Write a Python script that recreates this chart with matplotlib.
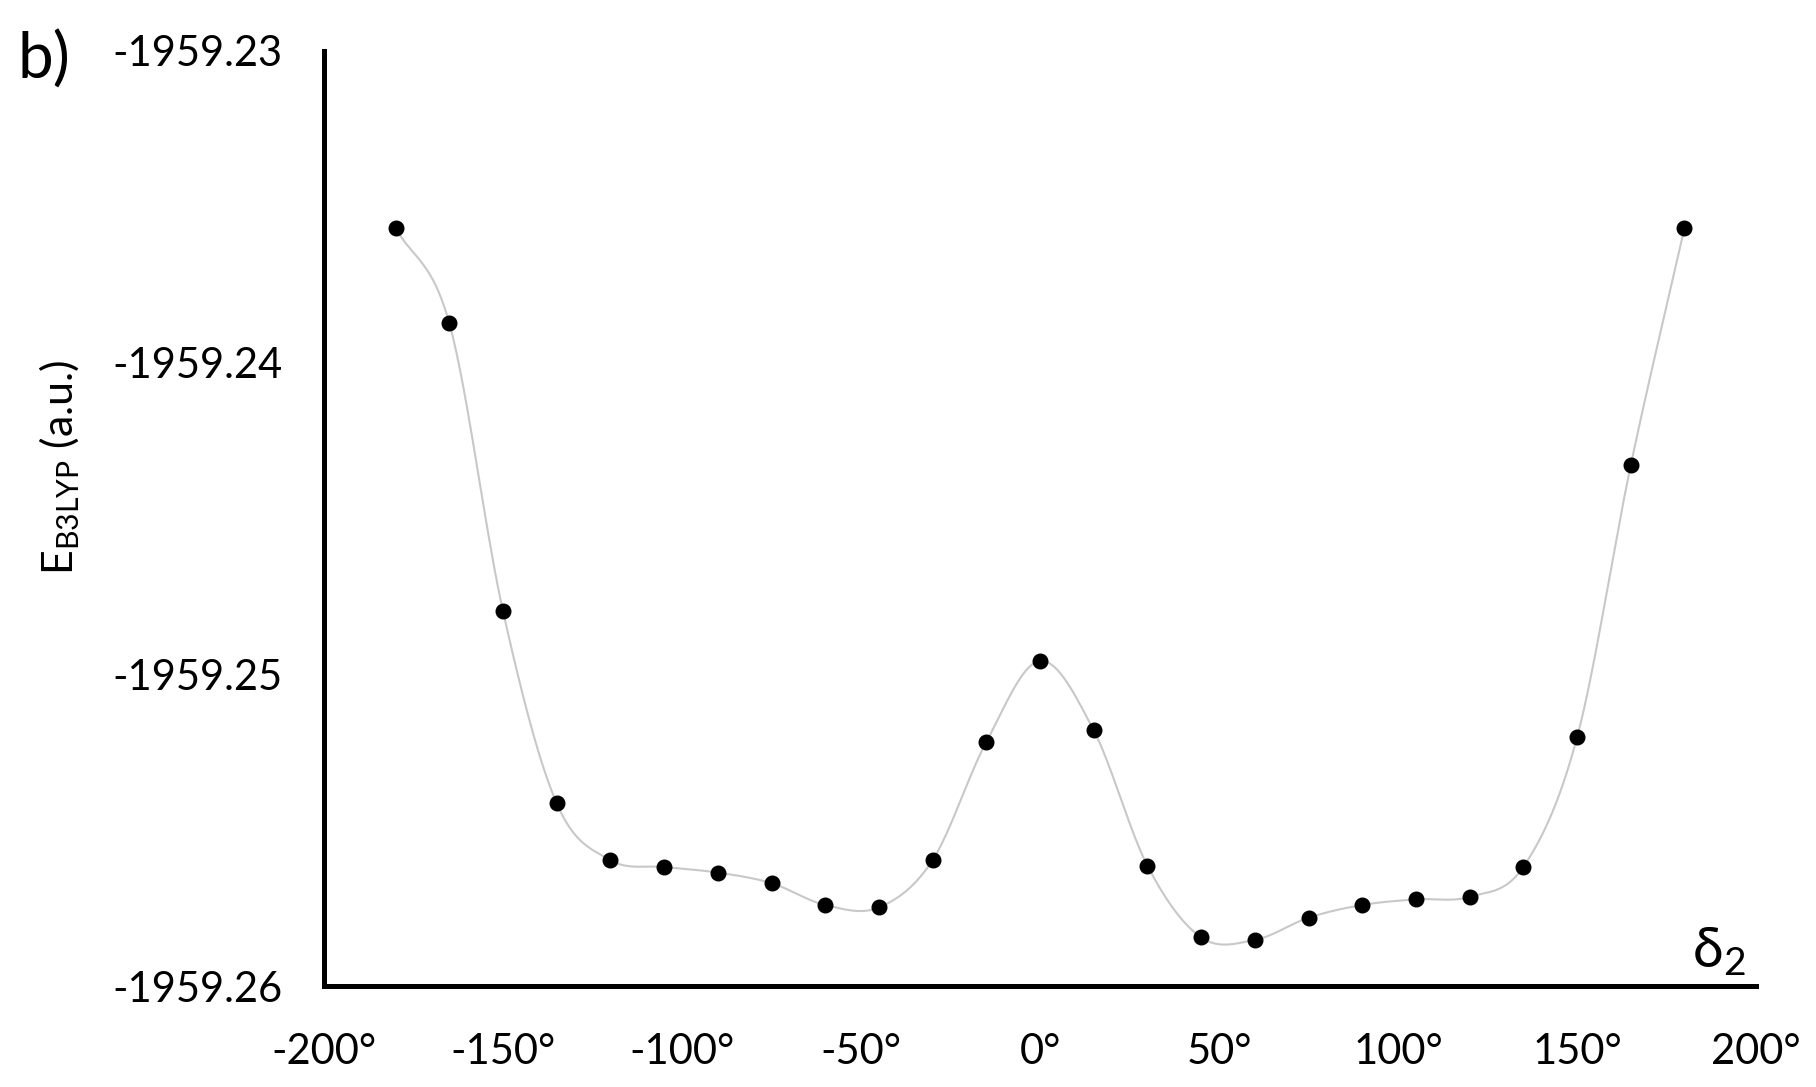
import numpy as np
import matplotlib
matplotlib.use("Agg")
import matplotlib.pyplot as plt

plt.rcParams['font.family'] = ['Lato', 'DejaVu Sans']
plt.rcParams['mathtext.default'] = 'regular'

# data
angles = [-180, -165, -150, -135, -120, -105, -90, -75, -60, -45, -30, -15, 0,
          15, 30, 45, 60, 75, 90, 105, 120, 135, 150, 165, 180]
energies = [-1959.23568, -1959.23873, -1959.24797, -1959.25414, -1959.25596,
            -1959.25618, -1959.25636, -1959.25670, -1959.25740, -1959.25748,
            -1959.25596, -1959.25217, -1959.24957, -1959.25180, -1959.25614,
            -1959.25844, -1959.25852, -1959.25781, -1959.25740, -1959.25722,
            -1959.25714, -1959.25618, -1959.25202, -1959.24329, -1959.23568]
xticks = [-200, -150, -100, -50, 0, 50, 100, 150, 200]
xtick_labels = ['-200°', '-150°', '-100°', '-50°', '0°', '50°', '100°', '150°', '200°']
yticks = [-1959.26, -1959.25, -1959.24, -1959.23]
ytick_labels = ['-1959.26', '-1959.25', '-1959.24', '-1959.23']


def catmull_rom(x, y, n=30):
    x = np.asarray(x, float)
    y = np.asarray(y, float)
    px = np.concatenate([[2 * x[0] - x[1]], x, [2 * x[-1] - x[-2]]])
    py = np.concatenate([[2 * y[0] - y[1]], y, [2 * y[-1] - y[-2]]])
    xs, ys = [], []
    t = np.linspace(0, 1, n, endpoint=False)
    for i in range(1, len(px) - 2):
        for P, out in ((px, xs), (py, ys)):
            p0, p1, p2, p3 = P[i - 1], P[i], P[i + 1], P[i + 2]
            out.append(0.5 * ((2 * p1) + (-p0 + p2) * t +
                              (2 * p0 - 5 * p1 + 4 * p2 - p3) * t ** 2 +
                              (-p0 + 3 * p1 - 3 * p2 + p3) * t ** 3))
    xs.append([x[-1]])
    ys.append([y[-1]])
    return np.concatenate(xs), np.concatenate(ys)


fig = plt.figure(figsize=(18.16, 10.87), dpi=100)
ax = fig.add_axes([0.1784, 0.0929, 0.967 - 0.1784, 0.9531 - 0.0929])

sx, sy = catmull_rom(angles, energies)
ax.plot(sx, sy, color='#c8c8c8', lw=1.5, zorder=2)
ax.plot(angles, energies, 'o', color='black', ms=10.5, zorder=3)

ax.set_xlim(-200, 200)
ax.set_ylim(-1959.26, -1959.23)
ax.set_xticks(xticks)
ax.set_xticklabels(xtick_labels)
ax.set_yticks(yticks)
ax.set_yticklabels(ytick_labels)
ax.tick_params(axis='both', length=0, labelsize=30, colors='black')
ax.tick_params(axis='x', pad=34)
ax.tick_params(axis='y', pad=30)

for s in ['top', 'right']:
    ax.spines[s].set_visible(False)
for s in ['left', 'bottom']:
    ax.spines[s].set_linewidth(3.6)
    ax.spines[s].set_color('black')

fig.text(60 / 1816, 1 - 467 / 1087, 'E$_{B3LYP}$ (a.u.)', rotation=90,
         ha='center', va='center', fontsize=31)
fig.text(17 / 1816, 1 - 60 / 1087, 'b)', ha='left', va='center', fontsize=46)
fig.text(1746 / 1816, 1 - 978 / 1087, 'δ$_2$', ha='right', va='bottom', fontsize=40)

fig.savefig('out.png', dpi=100)
